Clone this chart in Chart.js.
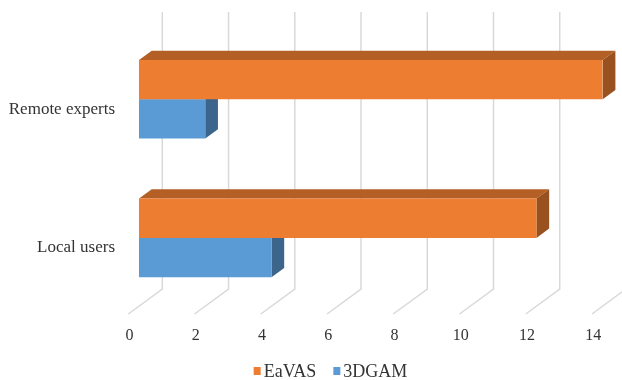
<!DOCTYPE html>
<html>
<head>
<meta charset="utf-8">
<script src="https://cdn.jsdelivr.net/npm/chart.js@4/dist/chart.umd.min.js"></script>
<style>
  html, body { margin: 0; padding: 0; background: #ffffff; }
  #wrap { width: 622px; height: 380px; }
</style>
</head>
<body>
<div id="wrap"><canvas id="c" width="622" height="380"></canvas></div>
<script>
// Survey groups and the scores of the two systems
const categories = ['Remote experts', 'Local users'];
const eavasValues = [14, 12];
const dgamValues = [2, 4];
const seriesNames = ['EaVAS', '3DGAM'];
const xTickValues = [0, 2, 4, 6, 8, 10, 12, 14];

const FONT = '"Liberation Serif", "Times New Roman", serif';
const TEXT = '#333333';

// Oblique-projection geometry for the pseudo-3D look
const BAR_DEPTH = { dx: 12.7, dy: -9.3 };                 // depth of each bar box
const WALL = { dx: 23.3, topGap: 18, bottomGap: 18.2 };   // back wall relative to front faces
const FLOOR_FRONT = { dx: -10.7, below: 6.8 };            // front edge of the floor
// Legend row below the axis
const LEGEND = { centerShift: 19.5, y: 371, box: 7, boxH: 8, textGap: 3, itemGap: 17, size: 18 };

function shade(hex, f) {
  const n = parseInt(hex.slice(1), 16);
  const r = Math.round(((n >> 16) & 255) * f);
  const g = Math.round(((n >> 8) & 255) * f);
  const b = Math.round((n & 255) * f);
  return `rgb(${r},${g},${b})`;
}

const threeD = {
  id: 'threeD',
  beforeDatasetsDraw(chart) {
    const { ctx, chartArea, scales } = chart;
    const xs = scales.x;
    ctx.save();
    // back wall gridlines that fold onto the floor
    ctx.strokeStyle = '#d9d9d9';
    ctx.lineWidth = 1.5;
    xTickValues.forEach(v => {
      const xf = xs.getPixelForValue(v);
      const xb = xf + WALL.dx;
      const yTop = chartArea.top - WALL.topGap;
      const yBack = chartArea.bottom - WALL.bottomGap;
      const xFloor = xf + FLOOR_FRONT.dx;
      const yFloor = chartArea.bottom + FLOOR_FRONT.below;
      ctx.beginPath();
      ctx.moveTo(xb, yTop);
      ctx.lineTo(xb, yBack);
      ctx.lineTo(xFloor, yFloor);
      ctx.stroke();
    });
    // top and side faces of each bar, behind the front faces
    chart.data.datasets.forEach((ds, di) => {
      const meta = chart.getDatasetMeta(di);
      if (meta.hidden) return;
      const base = ds.backgroundColor;
      meta.data.forEach(el => {
        const p = el.getProps(['x', 'y', 'base', 'height'], true);
        const left = Math.min(p.base, p.x), right = Math.max(p.base, p.x);
        const top = p.y - p.height / 2, bottom = p.y + p.height / 2;
        const dx = BAR_DEPTH.dx, dy = BAR_DEPTH.dy;
        ctx.fillStyle = shade(base, 0.76);
        ctx.beginPath();
        ctx.moveTo(left, top);
        ctx.lineTo(left + dx, top + dy);
        ctx.lineTo(right + dx, top + dy);
        ctx.lineTo(right, top);
        ctx.closePath();
        ctx.fill();
        ctx.fillStyle = shade(base, 0.65);
        ctx.beginPath();
        ctx.moveTo(right, top);
        ctx.lineTo(right + dx, top + dy);
        ctx.lineTo(right + dx, bottom + dy);
        ctx.lineTo(right, bottom);
        ctx.closePath();
        ctx.fill();
      });
    });
    ctx.restore();
  },
  afterDraw(chart) {
    // compact legend: square marker followed closely by the series name
    const { ctx } = chart;
    ctx.save();
    ctx.font = `${LEGEND.size}px ${FONT}`;
    ctx.textBaseline = 'middle';
    ctx.textAlign = 'left';
    const items = chart.data.datasets.map(ds => ({
      text: ds.label, color: ds.backgroundColor, w: ctx.measureText(ds.label).width
    }));
    const total = items.reduce((s, it) => s + LEGEND.box + LEGEND.textGap + it.w, 0)
      + LEGEND.itemGap * (items.length - 1);
    let x = chart.width / 2 + LEGEND.centerShift - total / 2;
    items.forEach(it => {
      ctx.fillStyle = it.color;
      ctx.fillRect(x, LEGEND.y - LEGEND.boxH / 2, LEGEND.box, LEGEND.boxH);
      x += LEGEND.box + LEGEND.textGap;
      ctx.fillStyle = TEXT;
      ctx.fillText(it.text, x, LEGEND.y + 1);
      x += it.w + LEGEND.itemGap;
    });
    ctx.restore();
  }
};

new Chart(document.getElementById('c'), {
  type: 'bar',
  data: {
    labels: categories,
    datasets: [
      { label: seriesNames[0], data: eavasValues, backgroundColor: '#ED7D31', borderWidth: 0 },
      { label: seriesNames[1], data: dgamValues, backgroundColor: '#5B9BD5', borderWidth: 0 }
    ]
  },
  options: {
    indexAxis: 'y',
    responsive: false,
    animation: false,
    devicePixelRatio: 1,
    datasets: { bar: { barPercentage: 1, categoryPercentage: 0.567 } },
    layout: { padding: { left: 0, right: 19.3, top: 30, bottom: 36 } },
    scales: {
      x: {
        min: 0, max: 14,
        afterBuildTicks(scale) { scale.ticks = xTickValues.map(v => ({ value: v })); },
        afterFit(scale) { scale.height = 36.8; scale.paddingLeft = 0; scale.paddingRight = 0; },
        grid: { display: false },
        border: { display: false },
        ticks: { font: { family: FONT, size: 16 }, color: TEXT, labelOffset: -9.5, padding: 10.5 }
      },
      y: {
        afterFit(scale) { scale.width = 139; scale.paddingTop = 0; scale.paddingBottom = 0; },
        grid: { display: false, drawTicks: false },
        border: { display: false },
        ticks: { font: { family: FONT, size: 17 }, color: TEXT, labelOffset: 10, padding: 24 }
      }
    },
    plugins: {
      tooltip: { enabled: false },
      legend: { display: false }
    }
  },
  plugins: [threeD]
});
</script>
</body>
</html>
